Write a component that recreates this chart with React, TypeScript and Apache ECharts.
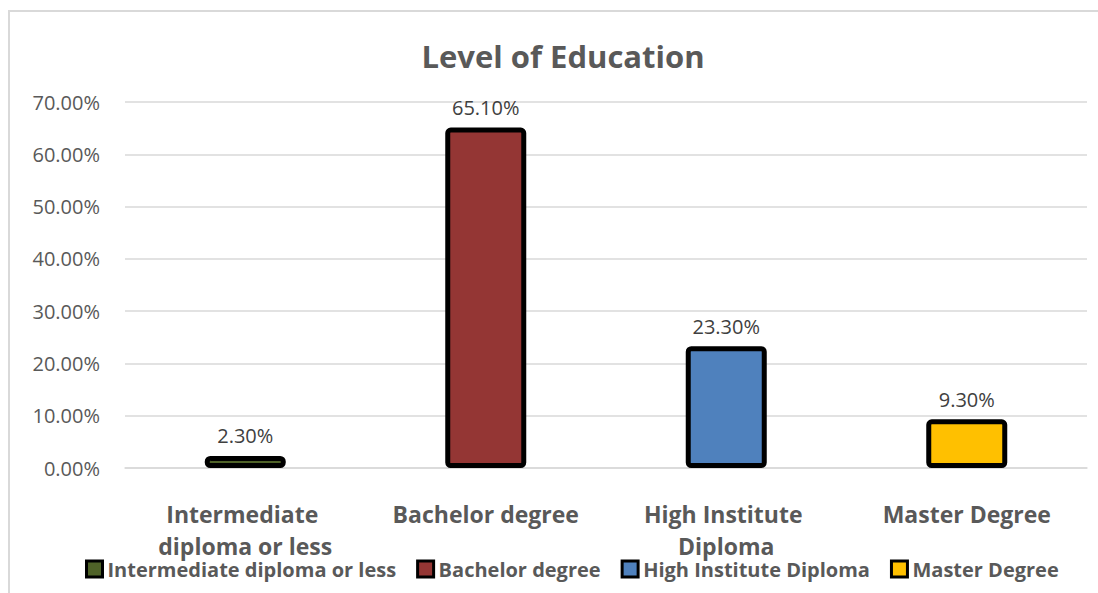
import React, { useEffect, useRef } from "react";
import * as echarts from "echarts";

const categories = [
  "Intermediate diploma or less",
  "Bachelor degree",
  "High Institute Diploma",
  "Master Degree",
];
const values = [2.3, 65.1, 23.3, 9.3];
const colors = ["#4F6228", "#943634", "#4F81BD", "#FFC000"];
const yTicks = { min: 0, max: 70, interval: 10 };

const FONT = "'Open Sans', 'Liberation Sans', sans-serif";

export default function App() {
  const ref = useRef<HTMLDivElement>(null);
  useEffect(() => {
    if (!ref.current) return;
    const chart = echarts.init(ref.current, null, { renderer: "svg" });
    const series = categories.map((name, i) => ({
      name,
      type: "bar",
      barWidth: 81,
      barGap: "-100%",
      data: categories.map((_, j) => (j === i ? values[i] : "-")),
      itemStyle: {
        color: colors[i],
        borderColor: "#000000",
        borderWidth: 5,
        borderRadius: 3,
      },
      label: {
        show: true,
        position: "top",
        distance: 10,
        color: "#404040",
        fontSize: 20,
        fontFamily: FONT,
        formatter: (p: any) => Number(p.value).toFixed(2) + "%",
      },
    }));
    chart.setOption({
      animation: false,
      backgroundColor: "#ffffff",
      title: {
        text: "Level of Education",
        left: 558,
        textAlign: "center",
        top: 35,
        textStyle: {
          fontSize: 31,
          fontWeight: "bold",
          color: "#595959",
          fontFamily: FONT,
        },
      },
      graphic: [
        {
          type: "rect",
          shape: { x: 9, y: 11, width: 1200, height: 700 },
          style: { fill: "none", stroke: "#D9D9D9", lineWidth: 2 },
          silent: true,
          z: -1,
        },
      ],
      grid: { left: 125, right: 11, top: 102, bottom: 125 },
      legend: {
        data: categories,
        left: 80,
        top: 554,
        icon: "rect",
        itemWidth: 16,
        itemHeight: 16,
        itemGap: 20,
        textStyle: {
          fontSize: 20,
          fontWeight: "bold",
          color: "#595959",
          fontFamily: FONT,
        },
        itemStyle: { borderColor: "#000000", borderWidth: 3 },
      },
      xAxis: {
        type: "category",
        data: categories,
        axisLine: { show: true, lineStyle: { color: "#D9D9D9", width: 1.5 } },
        axisTick: { show: false },
        axisLabel: {
          interval: 0,
          margin: 30,
          fontSize: 23,
          fontWeight: "bold",
          color: "#595959",
          fontFamily: FONT,
          lineHeight: 32,
          width: 210,
          overflow: "break",
        },
      },
      yAxis: {
        type: "value",
        min: yTicks.min,
        max: yTicks.max,
        interval: yTicks.interval,
        axisLine: { show: false },
        axisTick: { show: false },
        splitLine: { lineStyle: { color: "#D9D9D9", width: 1.5 } },
        axisLabel: {
          margin: 25,
          fontSize: 20,
          color: "#595959",
          fontFamily: FONT,
          formatter: (v: number) => v.toFixed(2) + "%",
        },
      },
      series,
    });
    return () => chart.dispose();
  }, []);
  return (
    <div
      ref={ref}
      style={{ position: "fixed", left: 0, top: 0, width: 1098, height: 593 }}
    />
  );
}
